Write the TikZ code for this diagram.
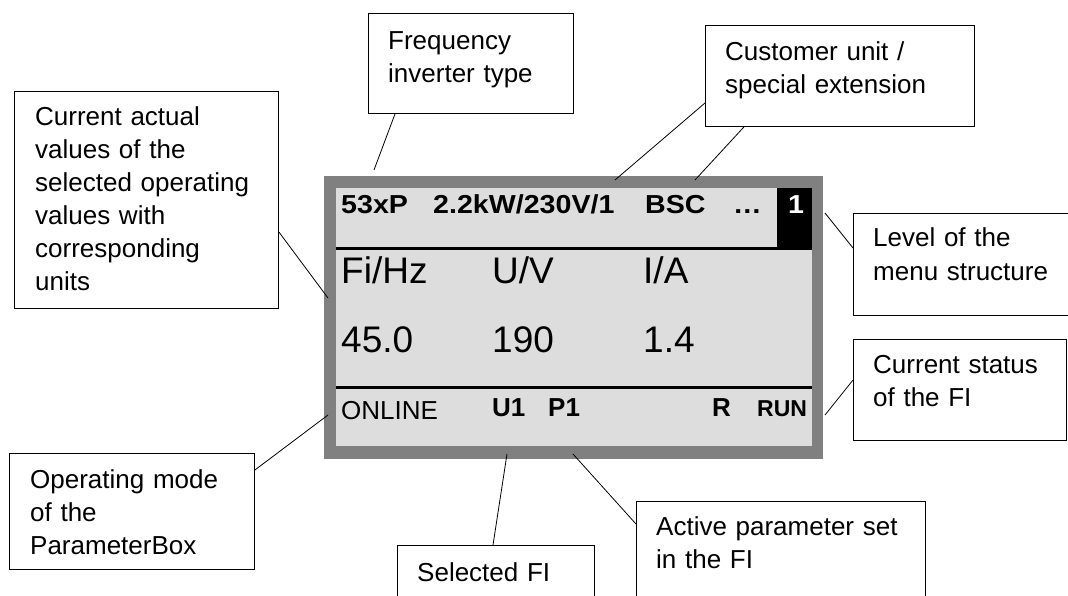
\documentclass[tikz,border=0pt]{standalone}
\usepackage{fontspec}
\setmainfont{Liberation Sans}
\newfontfamily\lcdwide[FakeStretch=1.1]{Liberation Sans}
\begin{document}
\begin{tikzpicture}[x=1pt,y=-1pt,
  callout/.style={draw=black, line width=0.9pt, fill=white, anchor=north west, inner sep=0pt},
  ctext/.style={anchor=base west, inner sep=0pt, text width=#1, align=left,
    font=\fontsize{26}{33}\selectfont},
  lead/.style={draw=black, line width=0.8pt},
  lcd/.style={anchor=base west, inner sep=0pt},
  topfont/.style={lcd, font=\lcdwide\fontsize{26}{26}\selectfont\bfseries},
  bigfont/.style={lcd, font=\fontsize{37}{37}\selectfont},
  botfont/.style={lcd, font=\fontsize{26}{26}\selectfont},
  botbold/.style={lcd, font=\fontsize{26}{26}\selectfont\bfseries},
]
\definecolor{framegray}{RGB}{128,128,128}
\definecolor{lcdgray}{RGB}{221,221,221}
\useasboundingbox (0,0) rectangle (1068,596);
\clip (0,0) rectangle (1068,596);

% display
\node[fill=framegray, anchor=north west, inner sep=0pt, minimum width=499, minimum height=283] (frame) at (324,176) {};
\node[fill=lcdgray, anchor=north west, inner sep=0pt, minimum width=476, minimum height=258] (screen) at (336,188) {};
\node[fill=black, anchor=north west, inner sep=0pt, minimum width=35, minimum height=61] (level) at (777,188) {};
\coordinate (s1a) at (336,248);
\coordinate (s1b) at (812,248);
\coordinate (s2a) at (336,387);
\coordinate (s2b) at (812,387);
\draw[line width=3pt] (s1a) -- (s1b);
\draw[line width=3pt] (s2a) -- (s2b);

\node[topfont] (t1) at (341,214) {53xP};
\node[topfont] (t2) at (433,214) {2.2kW/230V/1};
\node[topfont] (t3) at (645,214) {BSC};
\node[topfont] (t4) at (733,214) {\dots};
\node[topfont, text=white] (t5) at (788,214) {1};

\node[bigfont] (r1a) at (341,283) {Fi/Hz};
\node[bigfont] (r1b) at (492,283) {U/V};
\node[bigfont] (r1c) at (643,283) {I/A};
\node[bigfont] (r2a) at (341,352) {45.0};
\node[bigfont] (r2b) at (492,352) {190};
\node[bigfont] (r2c) at (643,352) {1.4};

\node[botfont] (b1) at (341,419) {ONLINE};
\node[botbold] (b2) at (492,416) {U1};
\node[botbold] (b3) at (548,416) {P1};
\node[botbold] (b4) at (712,416) {R};
\node[lcd, font=\fontsize{23}{23}\selectfont\bfseries] (b5) at (757,416) {RUN};

% callouts
\node[callout, minimum width=205, minimum height=100] (freq) at (368,13) {};
\node[ctext=190] (freqT) at (388,50) {Frequency\\inverter type};

\node[callout, minimum width=264, minimum height=217] (actual) at (14,91) {};
\node[ctext=240] (actualT) at (35,126) {Current actual\\values of the\\selected operating\\values with\\corresponding\\units};

\node[callout, minimum width=269, minimum height=101] (cust) at (705,25) {};
\node[ctext=250] (custT) at (725,61) {Customer unit /\\special extension};

\node[callout, minimum width=230, minimum height=102] (lvl) at (853,213) {};
\node[ctext=200] (lvlT) at (873,247) {Level of the\\menu structure};

\node[callout, minimum width=213, minimum height=101] (stat) at (853,339) {};
\node[ctext=190] (statT) at (873,373) {Current status\\of the FI};

\node[callout, minimum width=245, minimum height=116] (mode) at (9,453) {};
\node[ctext=220] (modeT) at (30,488) {Operating mode\\of the\\ParameterBox};

\node[callout, minimum width=197, minimum height=70] (sel) at (397,545) {};
\node[ctext=170] (selT) at (417,581) {Selected FI};

\node[callout, minimum width=289, minimum height=110] (act) at (636,501) {};
\node[ctext=270] (actT) at (656,535) {Active parameter set\\in the FI};

% leader end points
\coordinate (pA) at (374,170);
\coordinate (pB) at (328,298);
\coordinate (pC1) at (615,180);
\coordinate (pC2) at (695,180);
\coordinate (pD) at (825,213);
\coordinate (pF) at (825,415);
\coordinate (pG) at (328,415);
\coordinate (pH) at (507,454);
\coordinate (pI) at (573,454);

\draw[lead] (freq.south west) ++(27,0) -- (pA);
\draw[lead] (actual.north east) ++(0,141) -- (pB);
\draw[lead] (cust.north west) ++(0,78) -- (pC1);
\draw[lead] (cust.south west) ++(39,0) -- (pC2);
\draw[lead] (lvl.north west) ++(0,35) -- (pD);
\draw[lead] (stat.north west) ++(0,41) -- (pF);
\draw[lead] (mode.north east) ++(0,17) -- (pG);
\draw[lead] (sel.north west) ++(96,0) -- (pH);
\draw[lead] (act.north west) ++(0,23) -- (pI);
\end{tikzpicture}
\end{document}
